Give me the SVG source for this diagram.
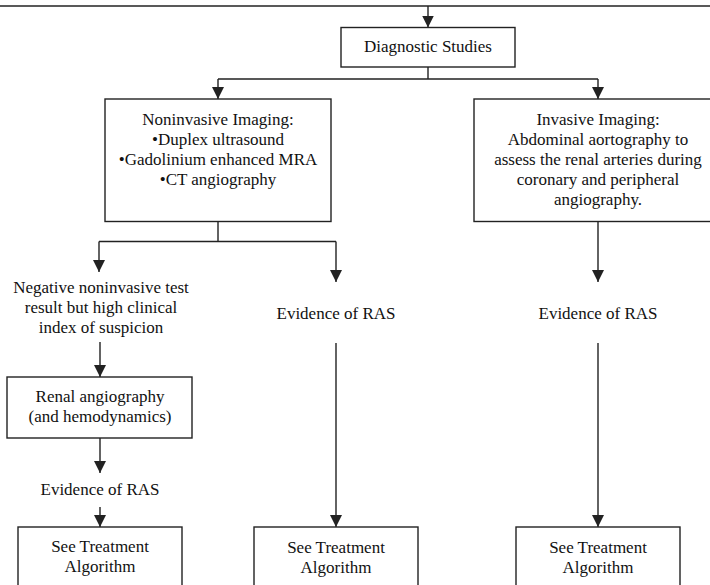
<svg xmlns="http://www.w3.org/2000/svg" width="710" height="585" viewBox="0 0 710 585">
<defs>
<style>
.box{fill:#fff;stroke:#222;stroke-width:1.4}
.ln{fill:none;stroke:#222;stroke-width:1.4}
.ar{fill:none;stroke:#222;stroke-width:1.4;marker-end:url(#ah)}
text{font-family:"Liberation Serif","Times New Roman",serif;font-size:17px;fill:#111;text-anchor:middle}
</style>
<marker id="ah" markerUnits="userSpaceOnUse" markerWidth="12" markerHeight="12" viewBox="0 0 10 10" refX="10" refY="5" orient="auto">
<path d="M0,0 L10,5 L0,10 Z" fill="#222"/>
</marker>
</defs>
<rect width="710" height="585" fill="#fff"/>
<g id="connectors">
<line class="ln" x1="0" y1="6" x2="710" y2="6"/>
<line class="ar" x1="428" y1="6" x2="428" y2="27.5"/>
<path class="ln" d="M428,67 V79 M218,79 H598"/>
<line class="ar" x1="218" y1="79" x2="218" y2="99"/>
<line class="ar" x1="598" y1="79" x2="598" y2="99"/>
<path class="ln" d="M218,221.5 V241.5 M99,241.5 H336"/>
<line class="ar" x1="99" y1="241.5" x2="99" y2="272"/>
<line class="ar" x1="336" y1="241.5" x2="336" y2="282"/>
<line class="ar" x1="598" y1="221.5" x2="598" y2="282"/>
<line class="ar" x1="100" y1="342" x2="100" y2="377"/>
<line class="ar" x1="100" y1="438" x2="100" y2="473"/>
<line class="ar" x1="100" y1="507" x2="100" y2="527"/>
<line class="ar" x1="336" y1="343" x2="336" y2="527"/>
<line class="ar" x1="598" y1="343" x2="598" y2="527"/>
</g>
<g id="diagnostic">
<rect class="box" x="341" y="27.5" width="174" height="39.5"/>
<text x="428" y="52">Diagnostic Studies</text>
</g>
<g id="noninvasive">
<rect class="box" x="105" y="99" width="226" height="122.5"/>
<text x="218" y="125">Noninvasive Imaging:</text>
<text x="218" y="145">•Duplex ultrasound</text>
<text x="218" y="165">•Gadolinium enhanced MRA</text>
<text x="218" y="185">•CT angiography</text>
</g>
<g id="invasive">
<rect class="box" x="474" y="99" width="248" height="122.5"/>
<text x="598" y="125">Invasive Imaging:</text>
<text x="598" y="145">Abdominal aortography to</text>
<text x="598" y="165">assess the renal arteries during</text>
<text x="598" y="185">coronary and peripheral</text>
<text x="598" y="205">angiography.</text>
</g>
<g id="negative">
<text x="101" y="293">Negative noninvasive test</text>
<text x="101" y="313">result but high clinical</text>
<text x="101" y="333">index of suspicion</text>
</g>
<g id="renal">
<rect class="box" x="7" y="377" width="185" height="61"/>
<text x="100" y="402">Renal angiography</text>
<text x="100" y="422">(and hemodynamics)</text>
</g>
<g id="evidence1">
<text x="100" y="495">Evidence of RAS</text>
</g>
<g id="evidence2">
<text x="336" y="319">Evidence of RAS</text>
</g>
<g id="evidence3">
<text x="598" y="319">Evidence of RAS</text>
</g>
<g id="treat1">
<rect class="box" x="18" y="527" width="164" height="80"/>
<text x="100" y="552">See Treatment</text>
<text x="100" y="572">Algorithm</text>
</g>
<g id="treat2">
<rect class="box" x="254" y="527" width="164" height="80"/>
<text x="336" y="553">See Treatment</text>
<text x="336" y="573">Algorithm</text>
</g>
<g id="treat3">
<rect class="box" x="516" y="527" width="164" height="80"/>
<text x="598" y="553">See Treatment</text>
<text x="598" y="573">Algorithm</text>
</g>
</svg>
